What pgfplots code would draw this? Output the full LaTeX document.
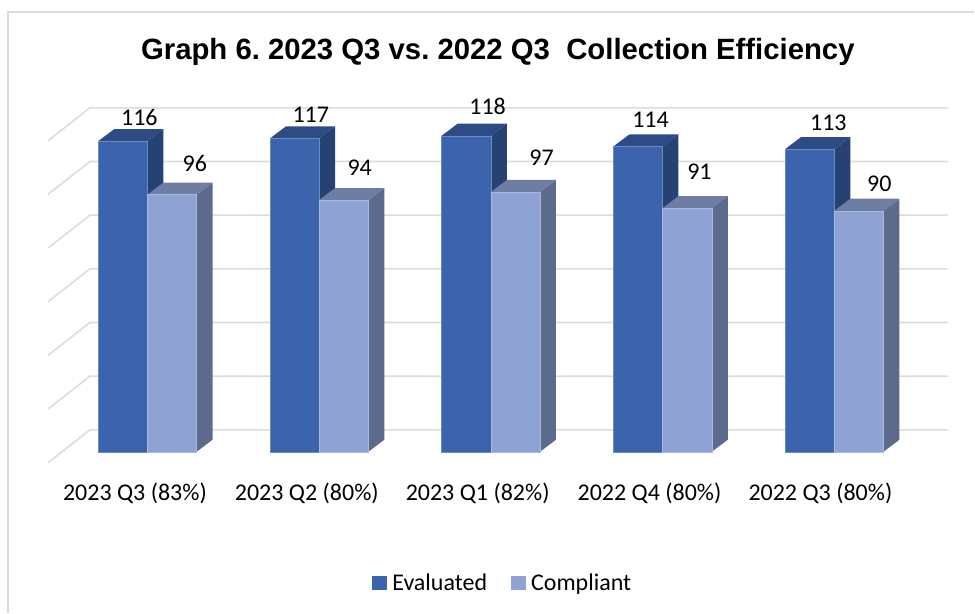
\documentclass[border=0pt]{standalone}
\usepackage{pgfplots}
\pgfplotsset{compat=1.18}
\usepackage{fontspec}
\setmainfont{Carlito}
\newfontfamily\titlefont{Liberation Sans}
\definecolor{ef}{HTML}{3B64AD}
\definecolor{es}{HTML}{264273}
\definecolor{et}{HTML}{2D4C85}
\definecolor{cf}{HTML}{8FA2D4}
\definecolor{cs}{HTML}{5C6A8C}
\definecolor{ct}{HTML}{6E7DA3}
\definecolor{gl}{HTML}{DCDCDC}
\newcommand{\threeD}[6]{%
  \addplot[fill=#5,draw=none,forget plot] coordinates {(#2,0)(#2+16,4.5)(#2+16,#3+4.5)(#2,#3)} -- cycle;
  \addplot[fill=#6,draw=none,forget plot] coordinates {(#1,#3)(#1+16,#3+4.5)(#2+16,#3+4.5)(#2,#3)} -- cycle;
  \addplot[fill=#4,draw=#4!75!white,line width=0.4pt,forget plot] coordinates {(#1,0)(#2,0)(#2,#3)(#1,#3)} -- cycle;
}
\newcommand{\gridl}[1]{%
  \addplot[gl,line width=1.2pt,forget plot] coordinates {(48,#1-12.3)(90,#1)(949,#1)};
}
\begin{document}
\frenchspacing
\begin{tikzpicture}
\begin{axis}[
  width=731.25pt,height=459.75pt,scale only axis,
  xmin=0,xmax=975,ymin=-60.07,ymax=168.66,
  clip=false,
  axis line style={draw=none},
  major tick length=0pt,
  ytick=\empty,
  xtick={135,307,478,650,821},
  xticklabels={2023 Q3 (83\%),2023 Q2 (80\%),2023 Q1 (82\%),2022 Q4 (80\%),2022 Q3 (80\%)},
  xticklabel style={font=\fontsize{18pt}{21pt}\selectfont,anchor=center,yshift=89.5pt},
  title={\titlefont\bfseries\fontsize{22pt}{25pt}\selectfont Graph 6. 2023 Q3 vs. 2022 Q3\ \ Collection Efficiency},
  title style={at={(rel axis cs:0.511,0.902)},anchor=center},
  legend columns=2,
  legend style={at={(axis cs:503.5,-49)},anchor=center,draw=none,fill=none,
    font=\fontsize{18pt}{21pt}\selectfont,
    /tikz/every even column/.append style={column sep=16pt},
    /tikz/column sep=2pt},
  legend image code/.code={\fill[#1,draw=none] (0pt,-5.5pt) rectangle (11pt,5.5pt);},
]
% frame
\addplot[gl,line width=1.1pt,forget plot] coordinates {(8,-60.07)(8,164.2)(975,164.2)};
% back wall grid
\gridl{8.2}\gridl{28.24}\gridl{48.28}\gridl{68.32}\gridl{88.36}\gridl{108.4}\gridl{128.44}
% bars: x0, x1, value
\threeD{98.3}{147.4}{116}{ef}{es}{et}
\threeD{147.4}{196.7}{96}{cf}{cs}{ct}
\threeD{270.1}{319.4}{117}{ef}{es}{et}
\threeD{319.4}{368.6}{94}{cf}{cs}{ct}
\threeD{441.9}{491.2}{118}{ef}{es}{et}
\threeD{491.2}{540.4}{97}{cf}{cs}{ct}
\threeD{613.8}{663}{114}{ef}{es}{et}
\threeD{663}{712.3}{91}{cf}{cs}{ct}
\threeD{785.6}{834.9}{113}{ef}{es}{et}
\threeD{834.9}{884.1}{90}{cf}{cs}{ct}
\addlegendimage{fill=ef}\addlegendentry{Evaluated}
\addlegendimage{fill=cf}\addlegendentry{Compliant}
\tikzset{dl/.style={font=\fontsize{18pt}{21pt}\selectfont,inner sep=0pt}}
\node[dl] at (axis cs:139.5,125) {116};
\node[dl] at (axis cs:195,107.8) {96};
\node[dl] at (axis cs:311,125.7) {117};
\node[dl] at (axis cs:360,106) {94};
\node[dl] at (axis cs:488,129.1) {118};
\node[dl] at (axis cs:542,110) {97};
\node[dl] at (axis cs:651,123.9) {114};
\node[dl] at (axis cs:700,104.5) {91};
\node[dl] at (axis cs:829,122.8) {113};
\node[dl] at (axis cs:880,100) {90};
\end{axis}
\end{tikzpicture}
\end{document}
